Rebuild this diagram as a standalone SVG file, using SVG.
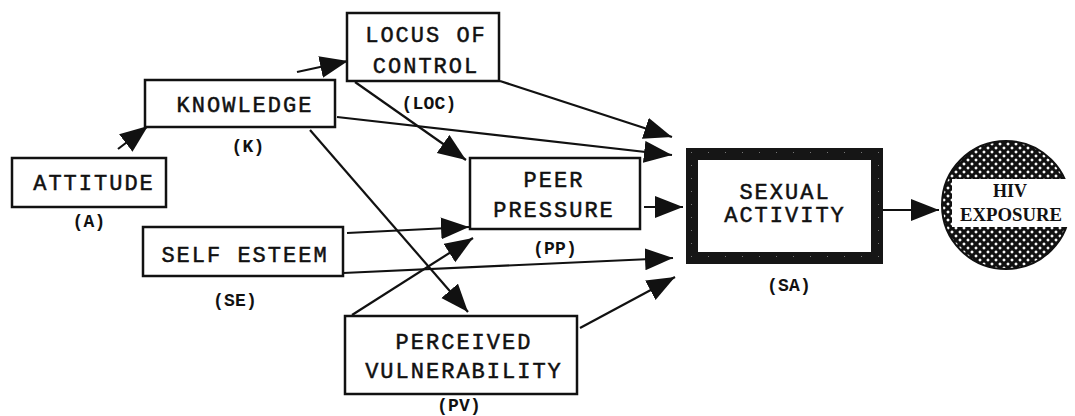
<svg xmlns="http://www.w3.org/2000/svg" width="1075" height="416" viewBox="0 0 1075 416">
<style>
.box{fill:#fff;stroke:#111;stroke-width:2.5}
.t{font-family:"Liberation Mono","Courier New",monospace;font-size:22px;letter-spacing:2px;fill:#111;stroke:#111;stroke-width:0.5;text-anchor:middle}
.lb{font-family:"Liberation Mono","Courier New",monospace;font-size:18px;font-weight:bold;letter-spacing:0.2px;fill:#111;text-anchor:middle}
.hv{font-family:"Liberation Serif","Times New Roman",serif;font-size:18px;font-weight:bold;fill:#111;text-anchor:middle}
.c line{stroke:#111;stroke-width:2.2;fill:none;marker-end:url(#ah)}
</style>
<defs>
<marker id="ah" markerUnits="userSpaceOnUse" markerWidth="30" markerHeight="24" refX="28" refY="11" orient="auto">
<path d="M0,0 L28,11 L0,22 Z" fill="#111"/>
</marker>
<pattern id="speck" width="17" height="13" patternUnits="userSpaceOnUse">
<rect width="17" height="13" fill="#161616"/>
<rect x="3" y="4" width="1" height="1" fill="#666"/>
<rect x="11" y="9" width="1" height="1" fill="#777"/>
</pattern>
<pattern id="hatch" width="8" height="8" patternUnits="userSpaceOnUse">
<rect width="8" height="8" fill="#111"/>
<path d="M4,2.2 L5.8,4 L4,5.8 L2.2,4 Z M0,-1.8 L1.8,0 L0,1.8 L-1.8,0 Z M8,-1.8 L9.8,0 L8,1.8 L6.2,0 Z M0,6.2 L1.8,8 L0,9.8 L-1.8,8 Z M8,6.2 L9.8,8 L8,9.8 L6.2,8 Z" fill="#fff"/>
</pattern>
</defs>

<g id="connectors" class="c">
<line x1="118" y1="149" x2="148" y2="126"/>
<line x1="297" y1="72" x2="348" y2="61"/>
<line x1="355" y1="82" x2="466" y2="160"/>
<line x1="500" y1="81" x2="672" y2="137"/>
<line x1="337" y1="117" x2="672" y2="155"/>
<line x1="644" y1="207" x2="683" y2="207"/>
<line x1="347" y1="233" x2="469" y2="227"/>
<line x1="343" y1="273" x2="673" y2="258"/>
<line x1="352" y1="315" x2="473" y2="238"/>
<line x1="310" y1="130" x2="468" y2="312"/>
<line x1="580" y1="328" x2="675" y2="277"/>
<line x1="883" y1="210" x2="939" y2="210"/>
</g>

<g id="attitude">
<rect class="box" x="12" y="158" width="154" height="49"/>
<text class="t" x="94" y="190">ATTITUDE</text>
<text class="lb" x="89" y="227">(A)</text>
</g>

<g id="knowledge">
<rect class="box" x="145" y="80" width="190" height="47"/>
<text class="t" x="245" y="112">KNOWLEDGE</text>
<text class="lb" x="248" y="152">(K)</text>
</g>

<g id="loc">
<rect class="box" x="347" y="13" width="152" height="68"/>
<text class="t" x="426" y="42">LOCUS OF</text>
<text class="t" x="426" y="73">CONTROL</text>
<text class="lb" x="429" y="109">(LOC)</text>
</g>

<g id="pp">
<rect class="box" x="470" y="158" width="170" height="71"/>
<text class="t" x="554" y="187">PEER</text>
<text class="t" x="554" y="217">PRESSURE</text>
<text class="lb" x="555" y="254">(PP)</text>
</g>

<g id="se">
<rect class="box" x="143" y="227" width="200" height="49"/>
<text class="t" x="245" y="262">SELF ESTEEM</text>
<text class="lb" x="235" y="306">(SE)</text>
</g>

<g id="pv">
<rect class="box" x="345" y="316" width="232" height="78"/>
<text class="t" x="464" y="349">PERCEIVED</text>
<text class="t" x="464" y="378">VULNERABILITY</text>
<text class="lb" x="459" y="411">(PV)</text>
</g>

<g id="sa">
<rect x="692" y="154" width="185" height="104" fill="#fff" stroke="url(#speck)" stroke-width="12"/>
<text class="t" x="785" y="199">SEXUAL</text>
<text class="t" x="785" y="222">ACTIVITY</text>
<text class="lb" x="789" y="291">(SA)</text>
</g>

<g id="hiv">
<circle cx="1006" cy="205" r="64" fill="url(#hatch)" stroke="#111" stroke-width="2"/>
<rect x="952" y="179" width="120" height="48" fill="#fff"/>
<text class="hv" x="1010" y="197">HIV</text>
<text class="hv" x="1011" y="221" textLength="102" lengthAdjust="spacingAndGlyphs">EXPOSURE</text>
</g>
</svg>
